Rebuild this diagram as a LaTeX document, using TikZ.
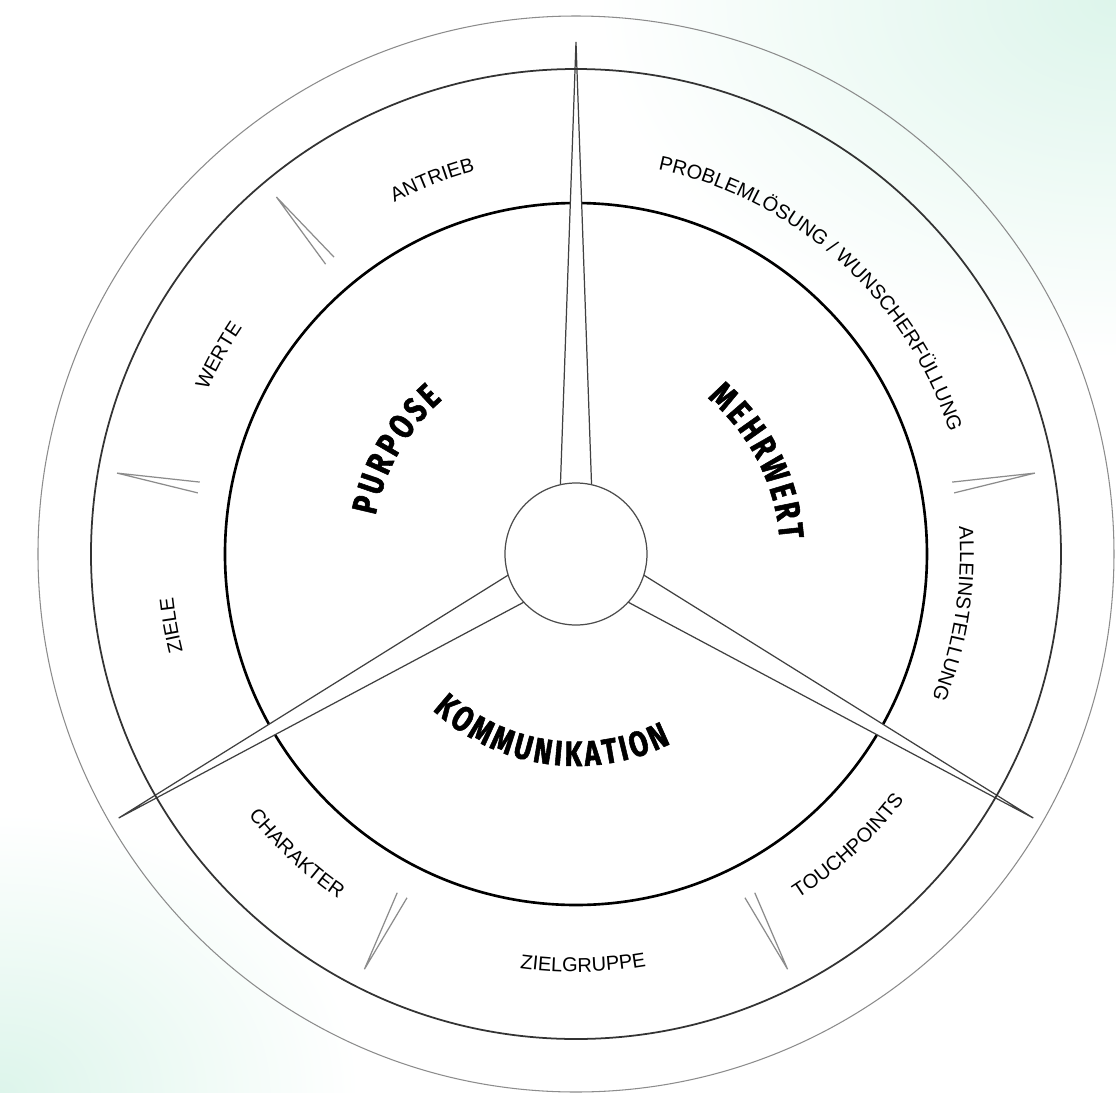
\documentclass[tikz,border=0pt]{standalone}
\usepackage{fontspec}
\usetikzlibrary{decorations.text}

\setmainfont{Liberation Sans}
\newfontfamily\headfont[FakeStretch=0.78, FakeBold=1.5, WordSpace=0.5]{Fira Sans}
\definecolor{mint}{RGB}{221,245,235}

\begin{document}
\begin{tikzpicture}[
    spike/.style={draw=black!75, line width=0.35pt, fill=white},
    divider/.style={draw=black!45, line width=0.35pt},
    ringtext/.style={decorate, decoration={text along path, text align=center,
        text={|\fontsize{5.7}{6}\selectfont|#1}}},
    sectortitle/.style={decorate, decoration={text along path, text align=center,
        text={|\headfont\bfseries\fontsize{10}{11}\selectfont|#1}}}
]

    \useasboundingbox (-5.76,-5.39) rectangle (5.40,5.54);

    \begin{scope}
        \clip (-5.76,-5.39) rectangle (5.40,5.54);
        \fill[white] (-5.76,-5.39) rectangle (5.40,5.54); % paper
        \shade[inner color=mint, outer color=white] (5.40,5.54) ellipse (5.2 and 3.6); % glow top right
        \shade[inner color=mint, outer color=white] (-5.76,-5.39) ellipse (3.6 and 2.8); % glow bottom left
    \end{scope}

    \draw[black, line width=0.75pt] (0,0) circle (3.51); % inner ring

    % spokes
    \foreach \ang/\len in {90/5.12, 210/5.28, 330/5.28}
        \draw[spike, rotate=\ang] (0,0.18) -- (\len,0) -- (0,-0.18) -- cycle;

    \node[circle, draw=black!70, fill=white, line width=0.35pt, minimum size=1.42cm, inner sep=0pt] (hub) at (0,0) {};

    \draw[black!80, line width=0.5pt] (0,0) circle (4.85); % middle ring
    \draw[black!45, line width=0.3pt] (0,0) circle (5.38); % outer ring

    % dividers between the topics
    \foreach \ang in {10, 130, 170, 243, 297}
        \draw[divider, rotate=\ang] (3.83,0.055) -- (4.66,0) -- (3.83,-0.055);

    % topics, upper half
    \path[ringtext={ANTRIEB}] (141:3.96) arc[start angle=141, end angle=81, radius=3.96];
    \path[ringtext={WERTE}] (181:4.03) arc[start angle=181, end angle=121, radius=4.03];
    \path[ringtext={ZIELE}] (220:4.05) arc[start angle=220, end angle=160, radius=4.05];
    \path[ringtext={PROBLEMLÖSUNG / WUNSCHERFÜLLUNG}] (88:3.93) arc[start angle=88, end angle=8, radius=3.93];
    \path[ringtext={ALLEINSTELLUNG}] (25:3.84) arc[start angle=25, end angle=-43, radius=3.84];

    % topics, lower half
    \path[ringtext={CHARAKTER}] (197:4.19) arc[start angle=197, end angle=257, radius=4.19];
    \path[ringtext={ZIELGRUPPE}] (241:4.18) arc[start angle=241, end angle=301, radius=4.18];
    \path[ringtext={TOUCHPOINTS}] (283:4.10) arc[start angle=283, end angle=343, radius=4.10];

    % sectors, letters spaced out by word spaces
    \path[sectortitle={P U R P O S E}] (195:2.04) arc[start angle=195, end angle=105, radius=2.04];
    \path[sectortitle={M E H R W E R T}] (75:2.04) arc[start angle=75, end angle=-21, radius=2.04];
    \path[sectortitle={K O M M U N I K A T I O N}] (205:2.12) arc[start angle=205, end angle=319, radius=2.12];

\end{tikzpicture}
\end{document}
